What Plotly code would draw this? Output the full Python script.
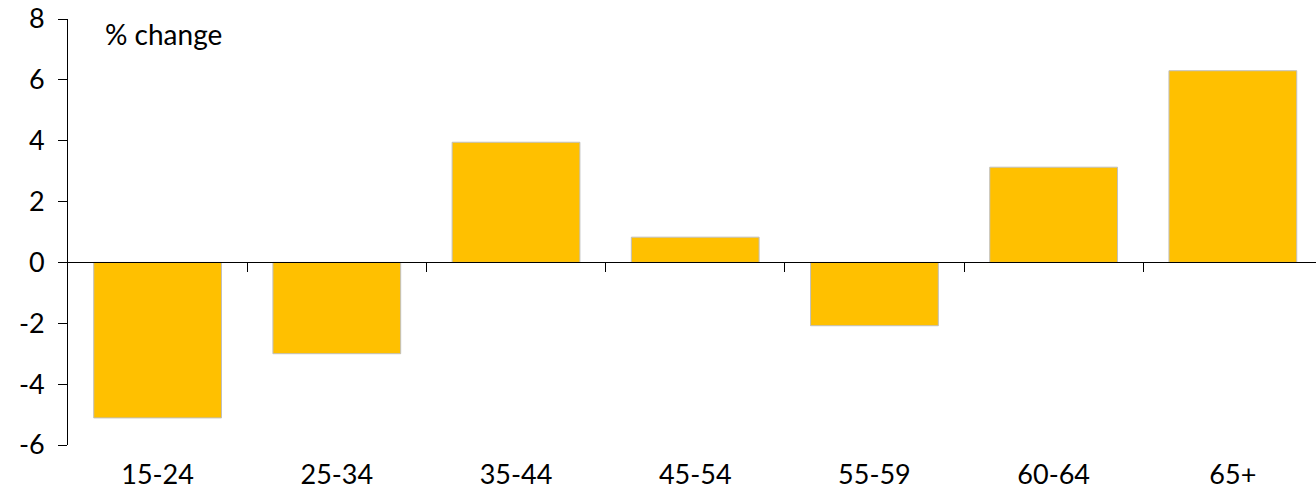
import plotly.graph_objects as go

categories = ["15-24", "25-34", "35-44", "45-54", "55-59", "60-64", "65+"]
values = [-5.11, -3.0, 3.95, 0.83, -2.08, 3.13, 6.30]
y_ticks = [-6, -4, -2, 0, 2, 4, 6, 8]
y_tick_text = ["-6", "-4", "-2", "0", "2", "4", "6", "8"]
y_min, y_max = -6, 8

FONT = "Lato"
n = len(categories)
x_positions = list(range(n))

fig = go.Figure()
fig.add_trace(go.Bar(
    x=x_positions, y=values, width=0.713,
    marker=dict(color="#FFC000", line=dict(color="#BFBFBF", width=1)),
    hoverinfo="skip", showlegend=False,
))
# invisible trace so the zero-line axis is drawn
fig.add_trace(go.Scatter(x=[0], y=[0], xaxis="x2", mode="markers",
                         marker=dict(opacity=0), showlegend=False, hoverinfo="skip"))

xr = [-0.5, 6.464]
fig.update_layout(
    width=1316, height=499,
    margin=dict(l=68, r=0, t=19, b=54, autoexpand=False),
    paper_bgcolor="white", plot_bgcolor="white",
    font=dict(family=FONT, size=27, color="#000000"),
    xaxis=dict(
        range=xr, tickvals=x_positions, ticktext=categories,
        showline=False, ticks="", showgrid=False, zeroline=False,
        tickfont=dict(size=27), ticklabelstandoff=11, automargin=False,
        ticklabeloverflow="allow",
    ),
    xaxis2=dict(
        range=xr, overlaying="x", anchor="free",
        position=(0 - y_min) / (y_max - y_min),
        tickvals=[i + 0.5 for i in range(n - 1)],
        showticklabels=False, ticks="outside", ticklen=9, tickcolor="#000000",
        showline=True, linecolor="#000000", linewidth=1,
        showgrid=False, zeroline=False, automargin=False,
    ),
    yaxis=dict(
        range=[y_min, y_max], tickvals=y_ticks, ticktext=y_tick_text,
        showline=True, linecolor="#000000", linewidth=1,
        ticks="outside", ticklen=9, tickcolor="#000000",
        showgrid=False, zeroline=False, tickfont=dict(size=27),
        ticklabelstandoff=8, automargin=False, ticklabeloverflow="allow",
    ),
    annotations=[dict(
        text="% change", xref="paper", yref="paper", x=0.028, y=1.01,
        xanchor="left", yanchor="top", showarrow=False,
        font=dict(family=FONT, size=28, color="#000000"),
    )],
)

fig.write_html("out.html", config={"displayModeBar": False},
               post_script="document.body.style.margin='0';document.body.style.overflow='hidden';")
